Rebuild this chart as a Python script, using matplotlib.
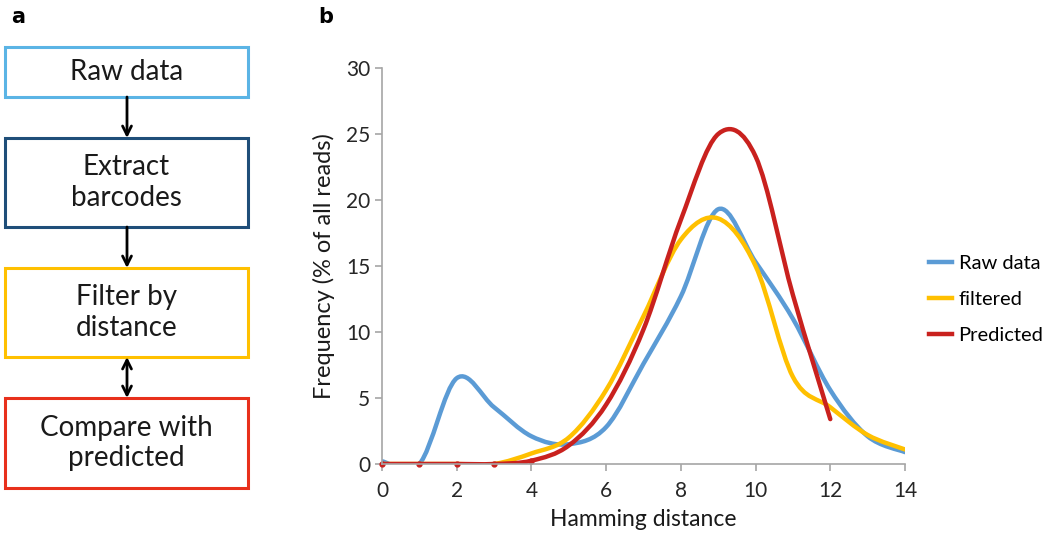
import matplotlib
matplotlib.use("Agg")
import matplotlib.pyplot as plt
import numpy as np
from matplotlib.path import Path
from matplotlib.patches import PathPatch, FancyBboxPatch, FancyArrowPatch
from matplotlib.lines import Line2D

plt.rcParams['font.family'] = ['Lato', 'DejaVu Sans']

# Hamming distance histograms (% of all reads), one value per integer distance
raw_x = [0, 1, 2, 3, 4, 5, 6, 7, 8, 9, 10, 11, 12, 13, 14]
raw_y = [0.2, 0.0, 6.5, 4.3, 2.1, 1.5, 2.8, 7.6, 12.7, 19.3, 15.3, 11.0, 5.6, 2.1, 0.9]

filt_x = [0, 1, 2, 3, 4, 5, 6, 7, 8, 9, 10, 11, 12, 13, 14]
filt_y = [0.0, 0.0, 0.0, 0.0, 0.8, 2.0, 5.6, 11.2, 17.0, 18.6, 15.0, 6.6, 4.3, 2.2, 1.1]

pred_x = [0, 1, 2, 3, 4, 5, 6, 7, 8, 9, 10, 11, 12]
pred_y = [0.0, 0.0, 0.0, 0.0, 0.25, 1.4, 4.5, 10.2, 18.5, 25.0, 23.3, 12.8, 3.4]

series_labels = ['Raw data', 'filtered', 'Predicted']
series_colors = ['#5B9BD5', '#FFC000', '#C9211E']

steps = ['Raw data', 'Extract\nbarcodes', 'Filter by\ndistance', 'Compare with\npredicted']
step_colors = ['#5BB4E5', '#1F4E79', '#FFC000', '#E8301C']


def smooth_path(xs, ys):
    """Cubic Bezier path through the points, spreadsheet-style smoothing."""
    pts = np.column_stack([xs, ys]).astype(float)
    n = len(pts)
    verts = [pts[0]]
    codes = [Path.MOVETO]
    for i in range(n - 1):
        p0 = pts[i - 1] if i > 0 else pts[i]
        p1 = pts[i]
        p2 = pts[i + 1]
        p3 = pts[i + 2] if i + 2 < n else pts[i + 1]
        c1 = p1 + (p2 - p0) / 6.0
        c2 = p2 - (p3 - p1) / 6.0
        verts += [c1, c2, p2]
        codes += [Path.CURVE4] * 3
    return Path(verts, codes)


fig = plt.figure(figsize=(10.63, 5.35), dpi=100)
W, H = 1063, 535

# ---- panel a: workflow boxes ----
fig.text(18 / W, 1 - 17 / H, 'a', fontsize=15, fontweight='bold', ha='center', va='center',
         family='DejaVu Sans')
box_tops = [47, 138, 268, 398]
box_bottoms = [97, 227, 357, 488]
bx0, bx1 = 5, 248
for label, col, top, bot in zip(steps, step_colors, box_tops, box_bottoms):
    rect = FancyBboxPatch((bx0 / W, 1 - bot / H), (bx1 - bx0) / W, (bot - top) / H,
                          boxstyle='square,pad=0', transform=fig.transFigure,
                          facecolor='white', edgecolor=col, linewidth=2.2)
    fig.add_artist(rect)
    fig.text((bx0 + bx1) / 2 / W, 1 - (top + bot) / 2 / H, label, ha='center', va='center',
             fontsize=20, color='#1a1a1a', linespacing=1.2)

cx = 127 / W
for i in range(3):
    y0 = 1 - box_bottoms[i] / H
    y1 = 1 - box_tops[i + 1] / H
    style = '<->' if i == 2 else '->'
    fig.add_artist(FancyArrowPatch(
        (cx, y0), (cx, y1), transform=fig.transFigure, arrowstyle=style,
        mutation_scale=16, linewidth=2, color='black', shrinkA=0, shrinkB=0))

# ---- panel b: distance distributions ----
fig.text(326 / W, 1 - 17 / H, 'b', fontsize=15, fontweight='bold', ha='center', va='center',
         family='DejaVu Sans')
ax = fig.add_axes([382 / W, 71 / H, 523 / W, 396 / H])

handles = []
for xs, ys, col, lab in zip([raw_x, filt_x, pred_x], [raw_y, filt_y, pred_y],
                            series_colors, series_labels):
    ax.add_patch(PathPatch(smooth_path(xs, ys), facecolor='none', edgecolor=col,
                           linewidth=3.2, capstyle='round', joinstyle='round'))
    handles.append(Line2D([], [], color=col, linewidth=3.2, label=lab))
ax.plot(pred_x[:5], pred_y[:5], 'o', color=series_colors[2], markersize=3.5, clip_on=False)

ax.set_xlim(0, 14)
ax.set_ylim(0, 30)
ax.set_xticks(range(0, 15, 2))
ax.set_yticks(range(0, 31, 5))
for side in ['top', 'right']:
    ax.spines[side].set_visible(False)
for side in ['left', 'bottom']:
    ax.spines[side].set_color('#A6A6A6')
    ax.spines[side].set_linewidth(1.2)
ax.tick_params(colors='#A6A6A6', labelcolor='#262626', labelsize=15, length=5, width=1.2)
ax.tick_params(axis='x', pad=7)
ax.set_xlabel('Hamming distance', fontsize=16.5, color='#1a1a1a', labelpad=6)
ax.set_ylabel('Frequency (% of all reads)', fontsize=17, color='#1a1a1a', labelpad=8)

ax.legend(handles=handles, loc='center left', bbox_to_anchor=(1.012, 0.415), frameon=False,
          fontsize=14.5, handlelength=1.1, handletextpad=0.35, labelspacing=0.95)

fig.savefig('out.png', dpi=100)
